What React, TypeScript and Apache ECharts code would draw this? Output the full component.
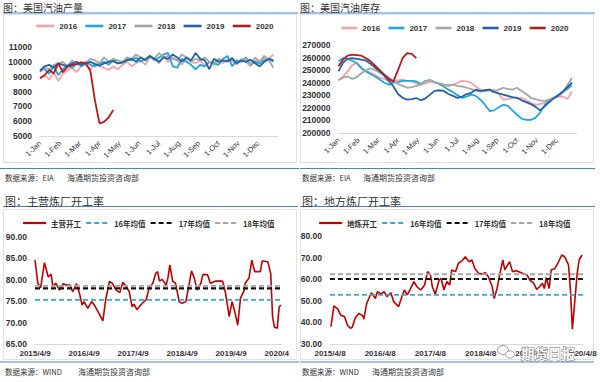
import React, { useEffect, useRef } from "react";
import * as echarts from "echarts";

// ---------- data ----------
const monthLabels = ["1-Jan", "1-Feb", "1-Mar", "1-Apr", "1-May", "1-Jun", "1-Jul", "1-Aug", "1-Sep", "1-Oct", "1-Nov", "1-Dec"];
const yearNames = ["2016", "2017", "2018", "2019", "2020"];
const yearColors = ["#f4a3a8", "#1fa8e0", "#a6a6a6", "#2163a6", "#b8191f"];

// US gasoline production, weekly (kb/d)
const prod2016 = [8900, 9100, 8800, 9300, 8700, 9200, 9400, 9600, 9300, 9700, 9800, 9500, 9900, 9700, 9600, 9450, 9700, 9500, 9800, 10000, 9700, 9900, 10100, 9800, 10300, 10200, 9900, 10400, 10000, 10300, 10100, 9800, 10200, 10000, 9900, 10100, 9700, 10000, 9800, 10100, 9900, 10200, 10000, 9800, 10200, 10000, 9700, 10100, 9900, 10300, 10200, 10500];
const prod2017 = [9400, 9500, 9200, 9700, 9100, 9500, 9800, 9600, 9900, 9700, 10000, 9800, 9700, 9900, 10000, 9800, 10100, 9900, 10000, 10200, 10100, 10300, 10000, 10200, 10400, 10100, 10300, 10500, 10600, 9700, 9600, 10200, 10000, 9800, 9500, 9800, 9700, 10000, 9900, 9800, 10200, 10400, 9700, 10100, 10000, 10300, 9800, 10000, 9900, 10100, 10200, 10000];
const prod2018 = [9300, 9600, 9500, 9800, 9900, 10000, 9700, 10100, 9800, 10000, 9900, 10200, 10100, 9900, 10300, 10000, 10200, 10100, 10000, 10300, 10200, 10500, 10300, 10100, 10400, 10200, 10600, 10300, 10400, 10200, 10100, 10500, 10300, 10000, 10200, 10100, 10300, 10000, 9900, 10200, 10100, 10000, 10300, 9900, 10100, 10200, 9800, 10300, 10000, 10400, 10100, 9600];
const prod2019 = [9400, 9700, 9800, 9600, 9900, 9800, 9700, 9900, 10000, 9800, 9900, 10000, 9850, 9750, 9900, 10000, 10050, 9900, 9950, 10100, 10200, 10000, 10300, 10100, 10400, 10200, 10000, 10300, 10200, 10500, 10300, 10000, 10300, 10100, 10600, 10200, 10100, 9500, 10200, 10000, 10100, 10050, 10200, 9900, 10100, 10000, 10150, 9900, 9700, 10000, 10200, 10100];
const prod2020 = [8900, 9100, 9450, 9230, 9900, 9300, 9650, 9780, 9850, 9950, 9900, 9400, 7400, 5850, 5950, 6250, 6750];

// US gasoline stocks, weekly (thousand barrels / 1000)
const stock2016 = [242, 245, 249, 254, 256, 251, 249, 248, 246, 244, 243, 241.5, 241, 242, 242.5, 241.5, 241, 239.5, 238.5, 239.5, 241, 240, 239.5, 238.5, 237, 238.5, 240, 241.5, 241, 240, 237, 234.5, 233, 234, 234.5, 231, 226.5, 227, 228, 227.5, 228, 226, 224, 222.5, 223, 224, 226, 228, 229, 229, 227, 233];
const stock2017 = [257, 259.5, 259, 257.5, 255.5, 252, 249, 247, 245, 242.5, 240, 238.5, 240, 240.5, 241.5, 241.5, 241.5, 241, 239, 241.5, 242, 240.5, 239, 237, 234.5, 232.5, 230, 228, 229, 230.5, 229.5, 226.5, 222.5, 217.5, 218, 220.5, 222.5, 221.5, 218, 214.5, 211.5, 210.5, 210.5, 212, 216, 222, 226, 228, 230, 232.5, 235, 238];
const stock2018 = [242, 244, 245, 243, 244.5, 247.5, 250, 251.5, 250, 248, 246.5, 244, 241.5, 239, 237.5, 236, 236.5, 237.5, 238.5, 241, 242, 240.5, 239.5, 238.5, 238, 238.5, 237.5, 237, 236, 235, 233.5, 233, 234, 234.5, 233, 234.5, 236, 235, 234.5, 236, 233.5, 231, 228, 227, 226, 225.5, 226.5, 228, 229, 232, 238, 244];
const stock2019 = [249, 256, 259, 259.6, 259, 258.3, 257.5, 255, 252, 249, 245.5, 241.5, 237, 231, 228, 226.5, 227, 227.8, 226, 227.5, 230.5, 233.5, 234, 233.5, 231, 229.5, 228, 229, 231, 232, 234.5, 233.5, 234, 234.5, 232.5, 231.5, 230.5, 229.5, 228.5, 228, 226, 224.5, 223, 221, 218, 221, 224.5, 227.5, 230, 233, 236.5, 240];
const stock2020 = [253, 258.5, 261.5, 262.3, 262, 261.5, 259.5, 257, 253.5, 250, 246.5, 243, 241, 250, 259.5, 263.5, 263, 259.5];

// Main refinery run rate (weeks since 2015/4/9, %)
const mainWeeks = [0, 3, 6, 10, 14, 17, 19, 22, 26, 30, 33, 37, 40, 44, 47, 50, 52, 56, 60, 63, 67, 72, 75, 79, 82, 86, 90, 93, 97, 100, 103, 105, 108, 112, 118, 121, 125, 128, 130, 132, 135, 139, 141, 143, 146, 149, 153, 156, 160, 163, 166, 169, 172, 176, 178, 183, 186, 192, 199, 202, 206, 209, 212, 215, 218, 222, 223, 227, 230, 233, 239, 241, 247, 250, 252, 254, 257, 259, 261];
const mainRate = [84.6, 79.2, 78.1, 84.0, 80.7, 81.3, 78.4, 79.2, 77.6, 79.1, 78.8, 78.8, 77.2, 79.1, 77.0, 74.1, 74.9, 73.3, 74.9, 74.1, 72.5, 70.4, 75.4, 79.6, 79.2, 77.6, 77.0, 79.4, 78.4, 77.2, 73.7, 74.3, 73.0, 74.1, 75.4, 78.0, 79.2, 81.5, 81.9, 79.7, 80.1, 78.8, 80.4, 83.5, 79.7, 79.2, 74.9, 74.5, 74.9, 78.4, 82.1, 80.4, 77.6, 79.2, 81.2, 81.2, 79.2, 79.7, 79.7, 77.0, 71.4, 74.9, 72.5, 69.4, 75.7, 77.6, 79.2, 80.4, 84.6, 81.9, 81.9, 84.4, 84.2, 81.5, 71.4, 68.9, 68.7, 73.7, 74.1];
const mainAvg = { y16: 75.3, y17: 78.0, y18: 78.6 };
const mainTicks = ["2015/4/9", "2016/4/9", "2017/4/9", "2018/4/9", "2019/4/9", "2020/4/9"];

// Local (teapot) refinery run rate (weeks since 2015/4/8, %)
const localWeeks = [1, 4, 8, 11, 15, 18, 21, 23, 26, 30, 34, 35, 38, 41, 43, 47, 49, 53, 56, 59, 63, 66, 71, 75, 77, 80, 83, 87, 90, 94, 98, 101, 104, 106, 109, 113, 115, 118, 121, 124, 126, 130, 133, 137, 140, 144, 147, 150, 154, 157, 161, 164, 168, 170, 173, 176, 179, 181, 184, 186, 189, 193, 198, 204, 207, 211, 214, 217, 220, 222, 224, 227, 229, 233, 236, 240, 243, 247, 249, 251, 253, 256, 258, 261];
const localRate = [38.0, 47.6, 46.3, 43.4, 42.6, 38.8, 37.3, 37.7, 41.9, 44.2, 43.0, 41.5, 48.8, 51.9, 53.7, 51.1, 54.2, 53.1, 54.2, 51.9, 53.7, 49.6, 47.3, 52.7, 55.0, 52.7, 55.3, 58.9, 56.5, 55.0, 57.3, 63.5, 62.0, 56.5, 53.1, 59.6, 60.3, 55.0, 58.9, 57.3, 64.3, 63.5, 67.4, 68.6, 70.4, 68.1, 68.9, 65.0, 62.7, 62.4, 63.0, 61.1, 56.5, 51.1, 55.7, 62.7, 68.9, 64.3, 66.6, 68.1, 63.5, 63.9, 63.0, 62.0, 59.6, 58.1, 55.3, 56.5, 58.1, 55.7, 60.8, 55.7, 64.3, 65.0, 67.4, 71.2, 70.4, 66.6, 55.0, 36.8, 47.3, 62.7, 68.9, 71.2];
const localAvg = { y16: 52.7, y17: 60.1, y18: 62.3 };
const localTicks = ["2015/4/8", "2016/4/8", "2017/4/8", "2018/4/8", "2019/4/8", "2020/4/8"];

// ---------- styles ----------
const LATIN = "Arial, 'Liberation Sans', sans-serif";
const CJK = "'Noto Sans CJK SC', 'Noto Sans', sans-serif";
const BLUE = "#4a86c4";
const RED = "#c00000";
const CYAN = "#35a9dc";
const BLACK = "#111111";
const GRAY = "#a6a6a6";
const weekToMonth = (i: number) => (i * 12) / 52;
const W_MAX = 262;

function monthAxis(gridIndex: number) {
  return {
    type: "value", gridIndex, min: 0, max: 12, interval: 1,
    axisLine: { show: true, onZero: false, lineStyle: { color: "#d9d9d9", width: 1 } },
    axisTick: { show: false }, splitLine: { show: false },
    axisLabel: {
      rotate: 45, fontSize: 7.5, color: "#333", fontFamily: LATIN, margin: 6,
      showMaxLabel: false,
      formatter: (v: number) => monthLabels[Math.round(v)] ?? "",
    },
  };
}
function weekAxis(gridIndex: number, ticks: string[]) {
  return {
    type: "value", gridIndex, min: 0, max: W_MAX, interval: 52,
    axisLine: { show: true, onZero: false, lineStyle: { color: "#d9d9d9", width: 1 } },
    axisTick: { show: false }, splitLine: { show: false },
    axisLabel: {
      fontSize: 8, fontWeight: "bold", color: "#333", fontFamily: LATIN, margin: 5,
      showMaxLabel: false,
      formatter: (v: number) => (v % 52 === 0 ? ticks[v / 52] ?? "" : ""),
    },
  };
}
function valAxis(gridIndex: number, min: number, max: number, interval: number, fmt: (v: number) => string) {
  return {
    type: "value", gridIndex, min, max, interval,
    axisLine: { show: false }, axisTick: { show: false }, splitLine: { show: false },
    axisLabel: { fontSize: 8.5, fontWeight: "bold", color: "#333", fontFamily: LATIN, margin: 8, formatter: fmt },
  };
}

function buildOption() {
  const series: any[] = [];
  const prod = [prod2016, prod2017, prod2018, prod2019, prod2020];
  const stock = [stock2016, stock2017, stock2018, stock2019, stock2020];
  prod.forEach((arr, k) =>
    series.push({
      name: yearNames[k], type: "line", xAxisIndex: 0, yAxisIndex: 0, symbol: "none",
      lineStyle: { width: 1.8, color: yearColors[k] }, itemStyle: { color: yearColors[k] },
      data: arr.map((v, i) => [weekToMonth(i), v]),
    })
  );
  stock.forEach((arr, k) =>
    series.push({
      name: yearNames[k], type: "line", xAxisIndex: 1, yAxisIndex: 1, symbol: "none",
      lineStyle: { width: 1.8, color: yearColors[k] }, itemStyle: { color: yearColors[k] },
      data: arr.map((v, i) => [weekToMonth(i), v * 1000]),
    })
  );
  const refLines = (ax: number, avg: { y16: number; y17: number; y18: number }) => [
    { name: "16年均值", color: CYAN, v: avg.y16, w: 1.8 },
    { name: "17年均值", color: BLACK, v: avg.y17, w: 2.2 },
    { name: "18年均值", color: GRAY, v: avg.y18, w: 1.8 },
  ].map((r) => ({
    name: r.name, type: "line", xAxisIndex: ax, yAxisIndex: ax, symbol: "none",
    lineStyle: { width: r.w, color: r.color, type: [5, 3] }, itemStyle: { color: r.color },
    data: [[0, r.v], [W_MAX, r.v]],
  }));
  series.push({
    name: "主营开工", type: "line", xAxisIndex: 2, yAxisIndex: 2, symbol: "none",
    lineStyle: { width: 1.6, color: RED }, itemStyle: { color: RED },
    data: mainWeeks.map((w, i) => [w, mainRate[i]]),
  });
  series.push(...refLines(2, mainAvg));
  series.push({
    name: "地炼开工", type: "line", xAxisIndex: 3, yAxisIndex: 3, symbol: "none",
    lineStyle: { width: 1.6, color: RED }, itemStyle: { color: RED },
    data: localWeeks.map((w, i) => [w, localRate[i]]),
  });
  series.push(...refLines(3, localAvg));

  const legendText = { fontSize: 8, fontWeight: "bold", color: "#333", fontFamily: LATIN };
  const legendCJK = { fontSize: 7.5, fontWeight: "bold", color: "#333", fontFamily: CJK };
  const hideSym = { opacity: 0, borderWidth: 0 };

  const textEl = (text: string, x: number, y: number, size: number, extra: any = {}) => ({
    type: "text", x, y, silent: true,
    style: { text, fill: "#333", fontSize: size, fontFamily: CJK, textVerticalAlign: "middle", ...extra },
  });
  const lineEl = (x1: number, y1: number, x2: number, y2: number, stroke: string, lw = 1.2) => ({
    type: "line", silent: true, shape: { x1, y1, x2, y2 }, style: { stroke, lineWidth: lw },
  });
  const boxEl = (x: number, y: number, w: number, h: number) => ({
    type: "rect", silent: true, shape: { x, y, width: w, height: h }, style: { fill: "none", stroke: "#e2e2e2", lineWidth: 1 },
  });

  const graphic: any[] = [
    boxEl(3.5, 14.5, 293, 148), boxEl(300.5, 14.5, 293, 148),
    boxEl(3.5, 209.5, 293, 150), boxEl(300.5, 209.5, 293, 150),
    lineEl(3, 13, 298, 13, BLUE), lineEl(300, 13, 595, 13, BLUE),
    lineEl(3, 206.5, 298, 206.5, BLUE), lineEl(300, 206.5, 595, 206.5, BLUE),
    lineEl(0, 168.5, 299, 168.5, BLUE), lineEl(300, 168.5, 595, 168.5, BLUE),
    lineEl(0, 362, 299, 362, BLUE), lineEl(300, 362, 594, 362, BLUE),
    textEl("图：美国汽油产量", 3, 7.5, 10),
    textEl("图：美国汽油库存", 300, 7.5, 10),
    textEl("图：主营炼厂开工率", 5, 201, 11),
    textEl("图：地方炼厂开工率", 302, 201, 11),
    textEl("数据来源：EIA", 5, 177.5, 7.5),
    textEl("海通期货投资咨询部", 67, 177.5, 8),
    textEl("数据来源：EIA", 302, 177.5, 7.5),
    textEl("海通期货投资咨询部", 363, 177.5, 8),
    textEl("数据来源：WIND", 5, 371, 7.5),
    textEl("海通期货投资咨询部", 78, 371, 8),
    textEl("数据来源：WIND", 302, 371, 7.5),
    textEl("海通期货投资咨询部", 372, 371, 8),
    // clip of last date label at the chart-area edge
    { type: "rect", z: 100, silent: true, shape: { x: 289, y: 346, width: 7.5, height: 12 }, style: { fill: "#fff" } },
    // watermark
    { type: "ellipse", z: 100, silent: true, shape: { cx: 503, cy: 350, rx: 5.5, ry: 4.5 }, style: { fill: "#fff", stroke: "#888", lineWidth: 0.8 } },
    { type: "ellipse", z: 101, silent: true, shape: { cx: 510, cy: 354.5, rx: 4.5, ry: 3.6 }, style: { fill: "#fff", stroke: "#888", lineWidth: 0.8 } },
    {
      type: "text", z: 102, x: 521, y: 352.5, silent: true,
      style: { text: "期货日报", fill: "#fff", stroke: "#666", lineWidth: 0.9, fontSize: 13.5, fontWeight: "bold", fontFamily: CJK, textVerticalAlign: "middle" },
    },
  ];

  const plain = (v: number) => String(v);
  return {
    animation: false,
    backgroundColor: "#fff",
    textStyle: { fontFamily: LATIN },
    grid: [
      { left: 40, top: 47, width: 238, height: 89 },
      { left: 338.5, top: 45, width: 238, height: 88 },
      { left: 35, top: 237, width: 247, height: 107 },
      { left: 330, top: 236, width: 253, height: 108 },
    ],
    xAxis: [monthAxis(0), monthAxis(1), weekAxis(2, mainTicks), weekAxis(3, localTicks)],
    yAxis: [
      valAxis(0, 5000, 11000, 1000, plain),
      valAxis(1, 200000, 270000, 10000, plain),
      valAxis(2, 65, 90, 5, (v: number) => v.toFixed(2)),
      valAxis(3, 30, 80, 10, (v: number) => v.toFixed(2)),
    ],
    legend: [
      { data: yearNames, left: 35, top: 22, padding: 0, itemWidth: 18, itemHeight: 10, itemGap: 7, lineStyle: { width: 2.6 }, itemStyle: hideSym, textStyle: legendText, selectedMode: false },
      { data: yearNames, left: 340, top: 24, padding: 0, itemWidth: 16, itemHeight: 10, itemGap: 7, lineStyle: { width: 2.6 }, itemStyle: hideSym, textStyle: legendText, selectedMode: false },
      { data: ["主营开工", "16年均值", "17年均值", "18年均值"], left: 22, top: 219, padding: 0, itemWidth: 23, itemHeight: 10, itemGap: 4, lineStyle: { width: 2.2 }, itemStyle: hideSym, textStyle: legendCJK, selectedMode: false },
      { data: ["地炼开工", "16年均值", "17年均值", "18年均值"], left: 318, top: 219, padding: 0, itemWidth: 23, itemHeight: 10, itemGap: 4, lineStyle: { width: 2.2 }, itemStyle: hideSym, textStyle: legendCJK, selectedMode: false },
    ],
    series,
    graphic,
  };
}

export default function App() {
  const ref = useRef<HTMLDivElement>(null);
  useEffect(() => {
    if (!ref.current) return;
    const chart = echarts.init(ref.current, null, { renderer: "svg" });
    chart.setOption(buildOption() as any);
    return () => chart.dispose();
  }, []);
  return (
    <div
      ref={ref}
      style={{ position: "absolute", left: 0, top: 0, width: 600, height: 382, background: "#fff" }}
    />
  );
}
